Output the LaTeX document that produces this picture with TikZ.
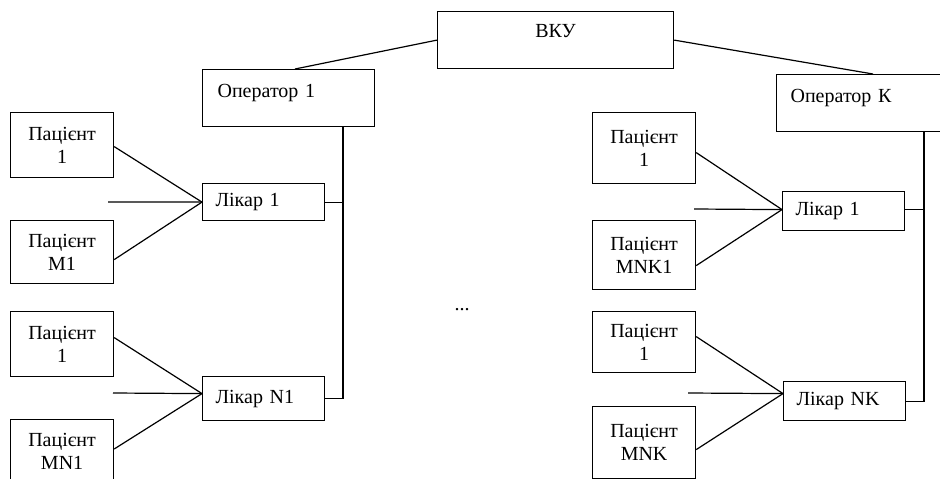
\documentclass[tikz,border=0pt]{standalone}
\usepackage{fontspec}
\setmainfont{Liberation Serif}
\usetikzlibrary{calc}
\begin{document}
\begin{tikzpicture}[x=1pt, y=-1pt, line width=1.2pt,
  txt/.style={font=\fontsize{20}{23}\selectfont},
  box/.style={draw, txt, rectangle, anchor=north west, inner sep=0pt},
  patient/.style={box, minimum width=103, minimum height=#1, align=center},
  doctor/.style={box, minimum height=#1, text width=96, inner xsep=13, align=left},
  topbox/.style={box, inner ysep=4, text height=24, text depth=25, align=left}
]
\useasboundingbox (0,0) rectangle (940,479);
\clip (0,0) rectangle (940,479);

% control unit and operators
\node[box, text width=236, align=center, inner ysep=4, text height=22, text depth=27] (vku) at (437,11) {ВКУ};
\node[topbox, text width=142, inner xsep=15] (op1) at (202,69) {Оператор 1};
\node[topbox, text width=172, inner xsep=14] (opK) at (776,74) {Оператор К};

\draw (vku.west) -- ($(op1.north west)+(93,0)$);
\draw (vku.east) -- ($(opK.north west)+(97,0)$);

% operator 1, first doctor
\node[patient=65] (p11) at (10,112) {Пацієнт\\1};
\node[patient=63] (pM1) at (10,220) {Пацієнт\\M1};
\node[doctor=37] (lik1) at (202,183) {Лікар 1};
\coordinate (in1) at (108,202);
\draw ([yshift=-1.5pt]p11.east) -- (lik1.west);
\draw ([yshift=-7.5pt]pM1.east) -- (lik1.west);
\draw (in1) -- (lik1.west);

% operator 1, doctor N1 (last patient box runs past the lower edge)
\node[patient=65] (p12) at (10,311) {Пацієнт\\1};
\node[box, minimum width=103, align=center, inner ysep=4, text height=46, text depth=36] (pMN1) at (10,419) {Пацієнт\\MN1};
\node[doctor=44] (likN1) at (202,376) {Лікар N1};
\coordinate (in2) at (113,393);
\coordinate (j1) at ([yshift=5pt]likN1.west);
\draw ([yshift=6.5pt]p12.east) -- (j1);
\draw (pMN1.north east |- 0,449) -- (j1);
\draw (in2) -- (j1);

% operator 1 bus
\coordinate (bus1) at ($(op1.south west)+(141,0)$);
\draw (bus1) |- (likN1.east);
\draw (lik1.east) -- (lik1.east -| bus1);

% operator K, first doctor
\node[patient=71] (p21) at (592,112) {Пацієнт\\1};
\node[patient=69] (pMNK1) at (592,220) {Пацієнт\\MNK1};
\node[doctor=39] (lik2) at (782,191) {Лікар 1};
\coordinate (in3) at (694,209);
\coordinate (j2) at ([yshift=1.5pt]lik2.west);
\draw ([yshift=-4.5pt]p21.east) -- (j2);
\draw ([yshift=-10.5pt]pMNK1.east) -- (j2);
\draw (in3) -- (j2);

% operator K, doctor NK
\node[patient=61] (p22) at (592,311) {Пацієнт\\1};
\node[patient=72] (pMNK) at (592,406) {Пацієнт\\MNK};
\node[doctor=39] (likNK) at (783,381) {Лікар NK};
\coordinate (in4) at (688,393);
\coordinate (j3) at ([yshift=7.5pt]likNK.west);
\draw ([yshift=5.5pt]p22.east) -- (j3);
\draw ([yshift=-7pt]pMNK.east) -- (j3);
\draw (in4) -- (j3);

% operator K bus
\coordinate (busK) at ($(opK.south west)+(148,0)$);
\draw (busK) |- (likNK.east);
\draw ([yshift=1.5pt]lik2.east) -- ([yshift=1.5pt]lik2.east -| busK);

% ellipsis between the groups
\node[txt, anchor=base, inner sep=0pt] (dots) at (462,310) {...};
\end{tikzpicture}
\end{document}
